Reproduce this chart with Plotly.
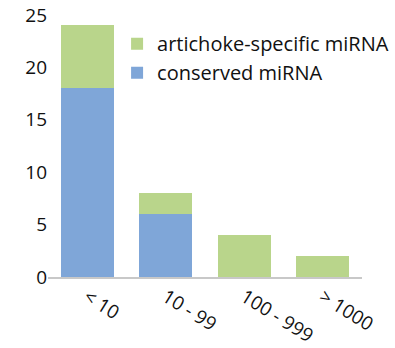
import plotly.graph_objects as go

categories = ["< 10", "10 - 99", "100 - 999", "> 1000"]
conserved = [18, 6, 0, 0]
artichoke_specific = [6, 2, 4, 2]

blue = "#7fa6d8"
green = "#b9d58b"

fig = go.Figure()
fig.add_trace(go.Bar(x=categories, y=conserved, name="conserved miRNA",
                     marker=dict(color=blue, line=dict(width=0))))
fig.add_trace(go.Bar(x=categories, y=artichoke_specific, name="artichoke-specific miRNA",
                     marker=dict(color=green, line=dict(width=0))))

fig.update_layout(
    width=395, height=348,
    barmode="stack", bargap=0.33,
    paper_bgcolor="white", plot_bgcolor="white",
    margin=dict(l=48, r=33, t=15, b=71, autoexpand=False),
    font=dict(family="Open Sans, Liberation Sans, sans-serif", size=18, color="#111111"),
    legend=dict(x=0.22, y=0.965, xanchor="left", yanchor="top",
                traceorder="reversed", bgcolor="rgba(0,0,0,0)",
                font=dict(size=20), itemwidth=30, tracegroupgap=0),
    xaxis=dict(showline=True, linecolor="#c8c8c8", linewidth=1.5,
               tickangle=32, ticks="", showgrid=False, automargin=False,
               tickfont=dict(size=19)),
    yaxis=dict(range=[0, 25], dtick=5, showline=False, showgrid=False,
               zeroline=False, ticks="", automargin=False,
               tickfont=dict(size=19)),
)

fig.write_html("out.html")
